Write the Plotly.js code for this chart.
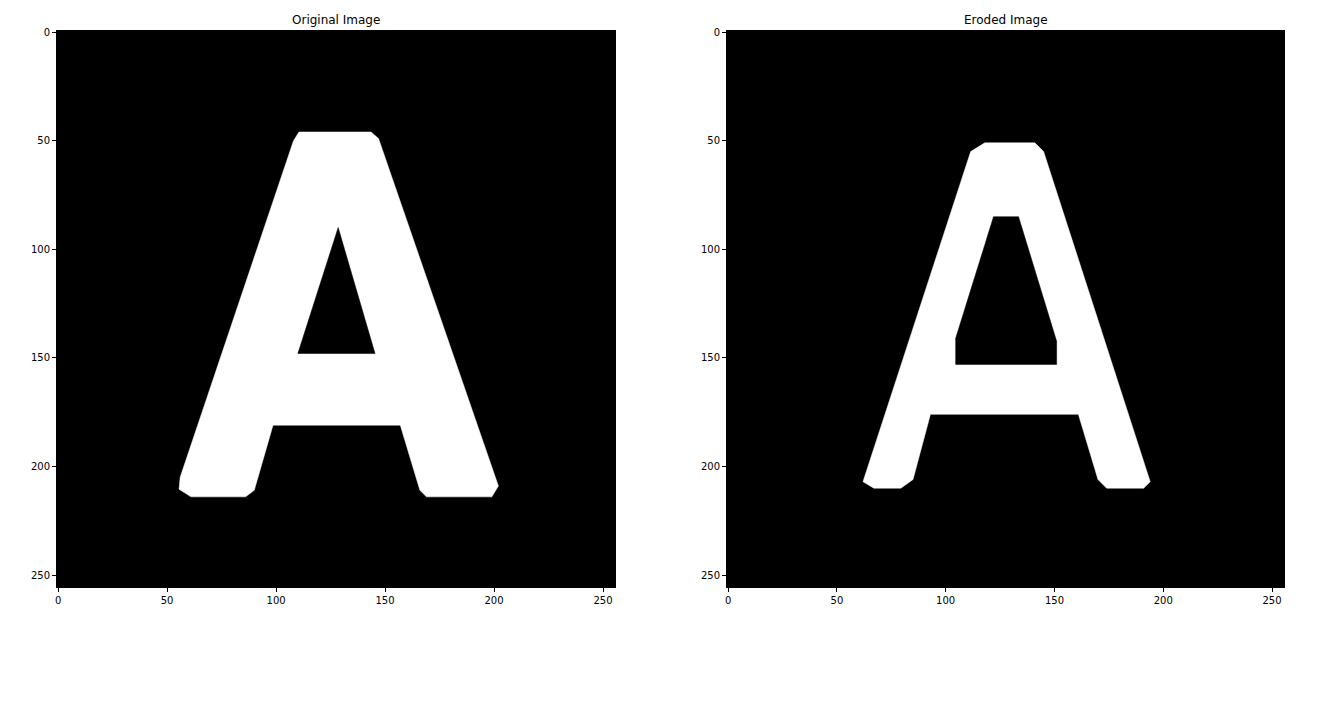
<!DOCTYPE html>
<html><head><meta charset="utf-8">
<script src="https://cdn.plot.ly/plotly-3.0.1.min.js"></script>
<style>body{margin:0;background:#fff}#c{width:1320px;height:711px}</style>
</head><body><div id="c"></div>
<script>
// Letter outlines in image (pixel) coordinates
const origOuterX=[108,110.5,116,143.6,147,202,199,169,166,157,98.6,90,86,61,55.5,56,108];
const origOuterY=[50,46,46,46,49,209,214,214,211,181,181,211,214,214,210.5,205,50];
const origHoleX=[128.5,145.4,110,128.5];
const origHoleY=[90,148,148,90];
const erodOuterX=[111.5,118,141,145,194,191,174,170,161,93,85,79.4,67,62,111.5];
const erodOuterY=[55,51,51,55,207,210,210,206,176,176,206,210,210,207,55];
const erodHoleX=[122,133.5,151,151,104.6,104.6,122];
const erodHoleY=[85,85,142.4,153,153,141,85];
const ticks=[0,50,100,150,200,250];

function poly(x,y,col,xa,ya){return {type:'scatter',mode:'lines',x:x,y:y,fill:'toself',fillcolor:col,line:{color:col,width:0.5},xaxis:xa,yaxis:ya,hoverinfo:'skip',showlegend:false};}
const data=[
 poly(origOuterX,origOuterY,'#fff','x','y'),
 poly(origHoleX,origHoleY,'#000','x','y'),
 poly(erodOuterX,erodOuterY,'#fff','x2','y2'),
 poly(erodHoleX,erodHoleY,'#000','x2','y2')
];
function ax(dom,anchor,rev){return {domain:dom,anchor:anchor,range:rev?[255.5,-0.5]:[-0.5,255.5],tickvals:ticks,ticks:'outside',ticklen:4,tickcolor:'#000',showgrid:false,zeroline:false,showline:true,mirror:true,linecolor:'#000',linewidth:1,tickfont:{family:'DejaVu Sans',size:10,color:'#000'}};}
const yTop=1-31/711,yBot=1-587/711;
const layout={width:1320,height:711,margin:{l:0,r:0,t:0,b:0},paper_bgcolor:'#fff',plot_bgcolor:'#000',
 xaxis:ax([57/1320,615/1320],'y',false),yaxis:ax([yBot,yTop],'x',true),
 xaxis2:ax([727/1320,1284/1320],'y2',false),yaxis2:ax([yBot,yTop],'x2',true),
 annotations:[
  {text:'Original Image',x:(57+615)/2640,y:yTop,xref:'paper',yref:'paper',yanchor:'bottom',xanchor:'center',showarrow:false,yshift:2,font:{family:'DejaVu Sans',size:12,color:'#000'}},
  {text:'Eroded Image',x:(727+1284)/2640,y:yTop,xref:'paper',yref:'paper',yanchor:'bottom',xanchor:'center',showarrow:false,yshift:2,font:{family:'DejaVu Sans',size:12,color:'#000'}}
 ]};
Plotly.newPlot('c',data,layout,{staticPlot:true});
</script></body></html>
